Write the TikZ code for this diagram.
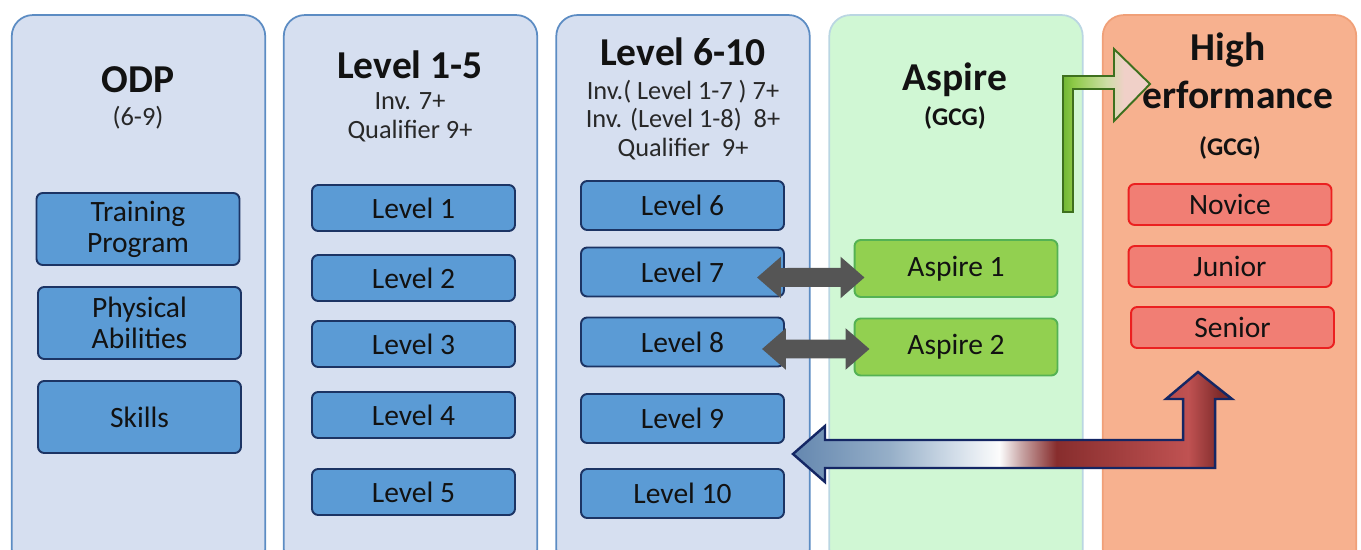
\documentclass[tikz,border=0pt]{standalone}
\usepackage{fontspec}
\setmainfont{Carlito}
\usepackage{xcolor}
\usetikzlibrary{arrows.meta,positioning}
\definecolor{panelblue}{RGB}{214,223,240}
\definecolor{paneledge}{RGB}{92,140,195}
\definecolor{panelgreen}{RGB}{208,247,212}
\definecolor{greenedge}{RGB}{186,214,226}
\definecolor{panelsalmon}{RGB}{247,177,143}
\definecolor{salmonedge}{RGB}{240,160,120}
\definecolor{boxblue}{RGB}{91,155,213}
\definecolor{boxedge}{RGB}{28,52,100}
\definecolor{boxgreen}{RGB}{146,208,80}
\definecolor{boxgreenedge}{RGB}{84,178,84}
\definecolor{boxred}{RGB}{241,126,116}
\definecolor{boxrededge}{RGB}{235,32,32}
\definecolor{inkblack}{RGB}{18,18,18}
\definecolor{inkgray}{RGB}{40,40,40}
\definecolor{arrowgray}{RGB}{85,85,85}
\definecolor{arrownavy}{RGB}{20,38,100}
\definecolor{arrowleaf}{RGB}{62,112,30}
\definecolor{shBlue}{RGB}{100,135,175}
\definecolor{shSteel}{RGB}{150,175,200}
\definecolor{shPale}{RGB}{215,225,235}
\definecolor{shWhite}{RGB}{252,252,252}
\definecolor{shRose}{RGB}{200,165,165}
\definecolor{shDark}{RGB}{135,45,45}
\definecolor{shRed}{RGB}{192,82,82}
\definecolor{shEnd}{RGB}{128,44,44}
\definecolor{shGreen}{RGB}{112,182,52}
\definecolor{shLime}{RGB}{142,202,72}
\definecolor{shMint}{RGB}{205,222,165}
\definecolor{shPink}{RGB}{240,208,200}
\pgfdeclarehorizontalshading{backshade}{100bp}{color(0bp)=(shBlue); color(25bp)=(shBlue);
  color(36bp)=(shSteel); color(44bp)=(shPale); color(48.5bp)=(shWhite); color(51bp)=(shRose);
  color(55bp)=(shDark); color(70bp)=(shRed); color(73.5bp)=(shEnd); color(100bp)=(shEnd)}
\pgfdeclarehorizontalshading{upshade}{100bp}{color(0bp)=(shGreen); color(25bp)=(shGreen);
  color(31bp)=(shLime); color(50bp)=(shMint); color(60bp)=(shPink); color(75bp)=(shPink); color(100bp)=(shPink)}
\newcommand{\headfont}{\fontsize{22.5}{25}\selectfont\bfseries}
\newcommand{\subfont}{\fontsize{15}{16.4}\selectfont}
\newcommand{\gcgfont}{\fontsize{14.5}{16}\selectfont\bfseries}
\newcommand{\boxfont}{\fontsize{16.8}{17.6}\selectfont}

\begin{document}
\begin{tikzpicture}[
  x=0.02cm,y=-0.02cm,
  panel/.style={draw,rounded corners=12pt,line width=1pt,minimum width=5.07cm,minimum height=11.1cm},
  head/.style={font=\headfont,text=inkblack,inner sep=0pt},
  sub/.style={font=\subfont,text=inkgray,align=center,inner sep=0pt},
  gcg/.style={font=\gcgfont,text=inkblack,inner sep=0pt},
  card/.style={draw,rounded corners=3.5pt,line width=1.1pt,minimum width=4.06cm,align=center,font=\boxfont,text=inkblack,inner sep=0pt},
  bluecard/.style={card,fill=boxblue,draw=boxedge},
  greencard/.style={card,fill=boxgreen,draw=boxgreenedge,minimum height=1.14cm},
  redcard/.style={card,fill=boxred,draw=boxrededge,minimum height=0.82cm},
  twoway/.style={{Triangle[length=0.48cm,width=0.8cm]}-{Triangle[length=0.48cm,width=0.8cm]},line width=0.38cm,draw=arrowgray,fill=arrowgray}
]
\useasboundingbox (0,0) rectangle (1361,550);
\clip (0,0) rectangle (1361,550);

% columns
\node[panel,fill=panelblue,draw=paneledge] (colODP) at (138.5,292.5) {};
\node[panel,fill=panelblue,draw=paneledge] (colLow) at (410.5,292.5) {};
\node[panel,fill=panelblue,draw=paneledge] (colMid) at (683,292.5) {};
\node[panel,fill=panelgreen,draw=greenedge] (colAsp) at (956,292.5) {};
\node[panel,fill=panelsalmon,draw=salmonedge] (colHP) at (1229.5,292.5) {};

% step up arrow (aspire -> high performance)
\shadedraw[shading=upshade,draw=arrowleaf,line width=1.1pt]
  (1063,212) -- (1063,76) -- (1114,76) -- (1114,49) -- (1150,84) -- (1114,121)
  -- (1114,89) -- (1073,89) -- (1073,212) -- cycle;

% headings
\node[head] (odpT) at (138,80) {ODP};
\node[sub] (odpS) at (138,118) {(6-9)};
\node[head] (lowT) at (410,65) {Level 1-5};
\node[sub] (lowS) at (410,117) {Inv. 7+\\Qualifier 9+};
\node[head] (midT) at (683,52) {Level 6-10};
\node[sub] (midS) at (683,120) {Inv.( Level 1-7 ) 7+\\Inv. (Level 1-8)\ \ 8+\\Qualifier\ \ 9+};
\node[head] (aspT) at (955,80) {Aspire};
\node[gcg] (aspS) at (955,118) {(GCG)};
\node[head] (hpT) at (1228,50) {High};
\node[head] (hpT2) at (1238,95) {erformance};
\node[gcg] (hpS) at (1230,148) {(GCG)};

% ODP
\node[bluecard,minimum height=1.44cm] (trainProg) at (138,229) {Training\\Program};
\node[bluecard,minimum height=1.44cm] (physAb) at (139.5,323) {Physical\\Abilities};
\node[bluecard,minimum height=1.44cm] (skills) at (139.5,417) {Skills};

% level 1-5
\node[bluecard,minimum height=0.92cm] (lvOne) at (413.5,208) {Level 1};
\node[bluecard,minimum height=0.92cm] (lvTwo) at (413.5,278) {Level 2};
\node[bluecard,minimum height=0.92cm] (lvThree) at (413.5,344) {Level 3};
\node[bluecard,minimum height=0.92cm] (lvFour) at (413.5,415) {Level 4};
\node[bluecard,minimum height=0.92cm] (lvFive) at (413.5,492) {Level 5};

% level 6-10
\node[bluecard,minimum height=0.98cm] (lvSix) at (682.5,205.5) {Level 6};
\node[bluecard,minimum height=0.98cm] (lvSeven) at (682.5,272) {Level 7};
\node[bluecard,minimum height=0.98cm] (lvEight) at (682.5,342) {Level 8};
\node[bluecard,minimum height=0.98cm] (lvNine) at (682.5,418.5) {Level 9};
\node[bluecard,minimum height=0.98cm] (lvTen) at (682.5,493.5) {Level 10};

% aspire
\node[greencard] (aspOne) at (956,268.5) {Aspire 1};
\node[greencard] (aspTwo) at (956,347) {Aspire 2};

% high performance
\node[redcard] (novice) at (1230,204.5) {Novice};
\node[redcard] (junior) at (1230,266.5) {Junior};
\node[redcard] (senior) at (1232.5,327.5) {Senior};

% links
\draw[twoway] ([xshift=-0.56cm,yshift=-0.11cm]lvSeven.east) -- ([xshift=0.22cm,yshift=-0.18cm]aspOne.west);
\draw[twoway] ([xshift=-0.46cm,yshift=-0.14cm]lvEight.east) -- ([xshift=0.32cm,yshift=-0.04cm]aspTwo.west);

% way back arrow
\shadedraw[shading=backshade,draw=arrownavy,line width=1.4pt]
  (793,454) -- (825,426) -- (825,440) -- (1183,440) -- (1183,399) -- (1166,399)
  -- (1198,372) -- (1232,399) -- (1215,399) -- (1215,468) -- (825,468) -- (825,482) -- cycle;
\end{tikzpicture}
\end{document}
